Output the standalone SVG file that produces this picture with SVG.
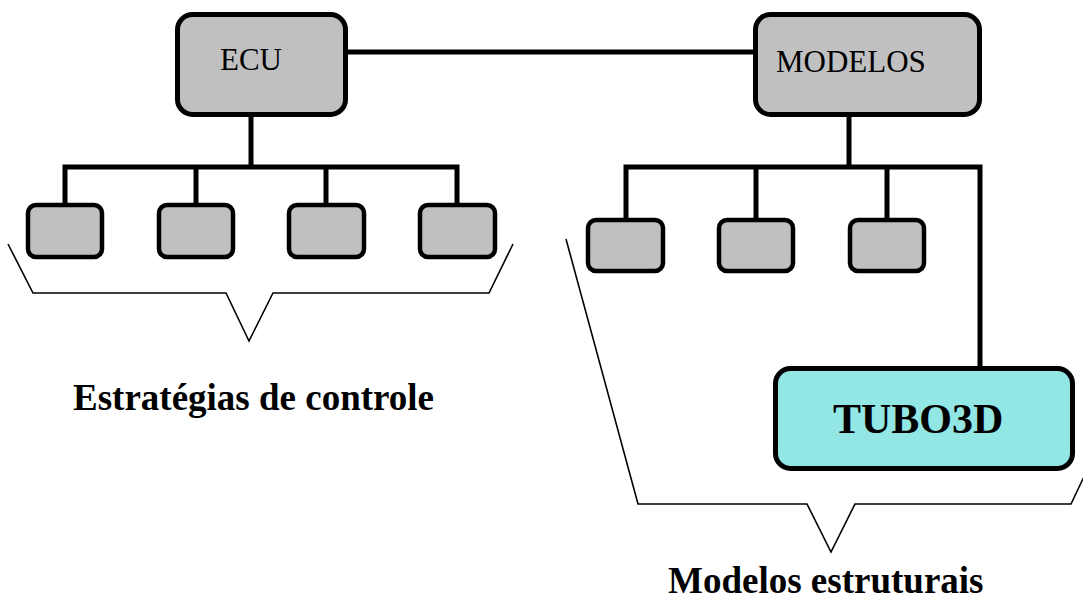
<svg xmlns="http://www.w3.org/2000/svg" width="1083" height="599" viewBox="0 0 1083 599">
<style>
.box{fill:#c0c0c0;stroke:#000;stroke-width:5}
.sm{fill:#c0c0c0;stroke:#000;stroke-width:4.5}
.tubo{fill:#92e6e4;stroke:#000;stroke-width:5}
.conn{fill:none;stroke:#000;stroke-width:5}
.brk{fill:none;stroke:#000;stroke-width:1.6}
.lbl{font-family:"Liberation Serif","Times New Roman",serif;font-size:31px;fill:#000}
.big{font-family:"Liberation Serif","Times New Roman",serif;font-size:37px;font-weight:bold;fill:#000}
.tt{font-family:"Liberation Serif","Times New Roman",serif;font-size:42px;font-weight:bold;fill:#000}
</style>
<rect width="1083" height="599" fill="#fff"/>
<g id="connectors">
<line class="conn" x1="346" y1="52" x2="756" y2="52"/>
<line class="conn" x1="251" y1="115" x2="251" y2="167"/>
<polyline class="conn" points="65,205 65,167 457,167 457,205"/>
<line class="conn" x1="196" y1="167" x2="196" y2="205"/>
<line class="conn" x1="326" y1="167" x2="326" y2="205"/>
<line class="conn" x1="849" y1="115" x2="849" y2="167"/>
<polyline class="conn" points="626,220 626,167 980,167 980,368"/>
<line class="conn" x1="756" y1="167" x2="756" y2="220"/>
<line class="conn" x1="887" y1="167" x2="887" y2="220"/>
</g>
<g id="ecu">
<rect class="box" x="177.5" y="14.5" width="168" height="100" rx="15"/>
<text class="lbl" x="220" y="70">ECU</text>
</g>
<g id="modelos">
<rect class="box" x="755.5" y="14.5" width="224" height="100" rx="15"/>
<text class="lbl" x="776" y="72">MODELOS</text>
</g>
<g id="ecu-child-1"><rect class="sm" x="28" y="205" width="74" height="52" rx="8"/></g>
<g id="ecu-child-2"><rect class="sm" x="159" y="205" width="74" height="52" rx="8"/></g>
<g id="ecu-child-3"><rect class="sm" x="289" y="205" width="75" height="52" rx="8"/></g>
<g id="ecu-child-4"><rect class="sm" x="420" y="205" width="75" height="52" rx="8"/></g>
<g id="mod-child-1"><rect class="sm" x="588" y="220" width="75" height="51" rx="8"/></g>
<g id="mod-child-2"><rect class="sm" x="719" y="220" width="74" height="51" rx="8"/></g>
<g id="mod-child-3"><rect class="sm" x="850" y="220" width="74" height="51" rx="8"/></g>
<g id="tubo3d">
<rect class="tubo" x="775.5" y="368.5" width="297" height="100" rx="15"/>
<text class="tt" x="833" y="433">TUBO3D</text>
</g>
<g id="bracket-left">
<polyline class="brk" points="8,244 33,293 226,293 249,341 273,293 489,293 513,244"/>
<text class="big" x="73" y="410">Estratégias de controle</text>
</g>
<g id="bracket-right">
<polyline class="brk" points="566,239 638,504 807,504 831,552 855,504 1071,504 1100,443"/>
<text class="big" x="668" y="593">Modelos estruturais</text>
</g>
</svg>
